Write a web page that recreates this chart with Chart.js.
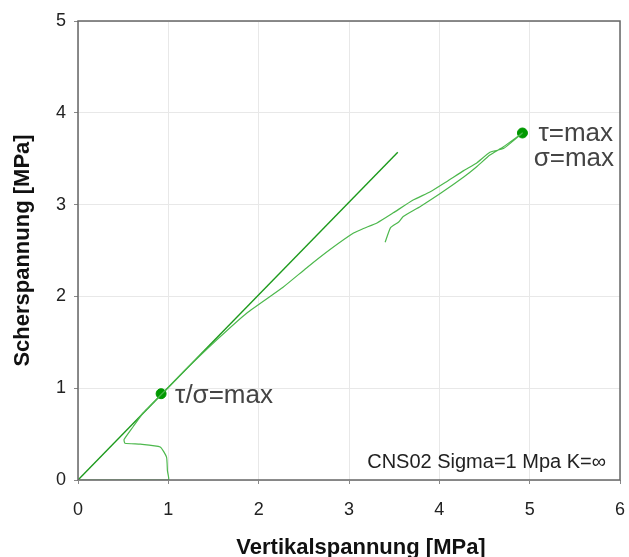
<!DOCTYPE html>
<html>
<head>
<meta charset="utf-8">
<script src="https://cdn.jsdelivr.net/npm/chart.js@4/dist/chart.umd.min.js"></script>
<style>
  html, body { margin: 0; padding: 0; background: #fff; }
  #wrap { width: 629px; height: 557px; }
</style>
</head>
<body>
<div id="wrap"><canvas id="shearChart"></canvas></div>
<script>
// measured curve: normal stress (x) and shear stress (y), MPa
const curveX = [0, 1.0, 0.99, 0.98, 0.91, 0.69, 0.52, 0.51, 0.61, 0.72, 0.92, 1.2, 1.54, 1.87, 2.27, 2.53, 2.79, 3.05, 3.16, 3.31, 3.49, 3.71, 3.90, 4.08, 4.27, 4.41, 4.56, 4.71, 4.92,
                4.71, 4.56, 4.41, 4.27, 4.01, 3.79, 3.60, 3.55, 3.46, 3.40];
const curveY = [0, 0, 0.1, 0.25, 0.36, 0.39, 0.40, 0.44, 0.58, 0.73, 0.93, 1.21, 1.53, 1.82, 2.10, 2.31, 2.51, 2.69, 2.74, 2.80, 2.91, 3.05, 3.14, 3.25, 3.37, 3.45, 3.57, 3.61, 3.78,
                3.63, 3.54, 3.41, 3.30, 3.12, 2.98, 2.87, 2.81, 2.75, 2.59];
// failure envelope line
const envX = [0, 3.54];
const envY = [0, 3.57];
// highlighted points
const markX = [0.92, 4.92];
const markY = [0.94, 3.78];
const markLabels = [['τ/σ=max'], ['τ=max', 'σ=max']];
const noteText = 'CNS02 Sigma=1 Mpa K=∞';
const xTitle = 'Vertikalspannung [MPa]';

const xTicks = [0, 1, 2, 3, 4, 5, 6];
const yTicks = [0, 1, 2, 3, 4, 5];

const toPts = (xs, ys) => xs.map((x, i) => ({ x: x, y: ys[i] }));

const FONT = 'Arial, "Liberation Sans", Helvetica, sans-serif';

const framePlugin = {
  id: 'frame',
  afterDatasetsDraw(chart) {
    const { ctx, chartArea: a, scales } = chart;
    ctx.save();
    ctx.strokeStyle = '#666';
    ctx.lineWidth = 1.5;
    ctx.strokeRect(a.left, a.top, a.right - a.left, a.bottom - a.top);
    // annotations
    ctx.fillStyle = '#444';
    ctx.font = '26px ' + FONT;
    ctx.textBaseline = 'middle';
    const p0x = scales.x.getPixelForValue(markX[0]);
    const p0y = scales.y.getPixelForValue(markY[0]);
    ctx.textAlign = 'left';
    ctx.fillText(markLabels[0][0], p0x + 14, p0y + 2);
    const p1y = scales.y.getPixelForValue(markY[1]);
    ctx.textAlign = 'right';
    ctx.fillText(markLabels[1][0], a.right - 7, p1y + 1);
    ctx.fillText(markLabels[1][1], a.right - 6, p1y + 26);
    ctx.font = '20px ' + FONT;
    ctx.fillStyle = '#222';
    ctx.fillText(noteText, a.right - 14, a.bottom - 18);
    // x axis title (sits a little right of centre in the original)
    ctx.font = 'bold 22px ' + FONT;
    ctx.fillStyle = '#111';
    ctx.textAlign = 'center';
    ctx.textBaseline = 'alphabetic';
    ctx.fillText(xTitle, (a.left + a.right) / 2 + 12, 554);
    ctx.restore();
  }
};

new Chart(document.getElementById('shearChart'), {
  type: 'scatter',
  data: {
    datasets: [
      {
        data: toPts(curveX, curveY),
        showLine: true,
        borderColor: '#4db84d',
        borderWidth: 1.2,
        pointRadius: 0,
        tension: 0.15
      },
      {
        data: toPts(envX, envY),
        showLine: true,
        borderColor: '#1c9a1c',
        borderWidth: 1.4,
        pointRadius: 0
      },
      {
        data: toPts(markX, markY),
        showLine: false,
        pointRadius: 5,
        pointBackgroundColor: '#009900',
        pointBorderColor: '#009900'
      }
    ]
  },
  options: {
    responsive: true,
    maintainAspectRatio: false,
    animation: false,
    layout: { padding: { left: 0, right: 9, top: 21, bottom: 0 } },
    plugins: { legend: { display: false }, tooltip: { enabled: false } },
    scales: {
      x: {
        type: 'linear',
        min: 0,
        max: 6,
        afterBuildTicks: s => { s.ticks = xTicks.map(v => ({ value: v })); },
        afterFit: s => { s.height = 77; s.paddingLeft = 0; s.paddingRight = 0; },
        grid: { color: '#e8e8e8', tickColor: '#888', tickLength: 4 },
        border: { display: false },
        ticks: { color: '#222', font: { family: FONT, size: 18 }, padding: 15, maxRotation: 0 },
        title: { display: false }
      },
      y: {
        type: 'linear',
        min: 0,
        max: 5,
        afterBuildTicks: s => { s.ticks = yTicks.map(v => ({ value: v })); },
        afterFit: s => { s.width = 78; s.paddingTop = 0; s.paddingBottom = 0; },
        grid: { color: '#e8e8e8', tickColor: '#888', tickLength: 4 },
        border: { display: false },
        ticks: { color: '#222', font: { family: FONT, size: 18 }, padding: 8 },
        title: {
          display: true,
          text: 'Scherspannung [MPa]',
          color: '#111',
          font: { family: FONT, size: 22, weight: 'bold' },
          padding: { top: 10, bottom: 0 }
        }
      }
    }
  },
  plugins: [framePlugin]
});
</script>
</body>
</html>
